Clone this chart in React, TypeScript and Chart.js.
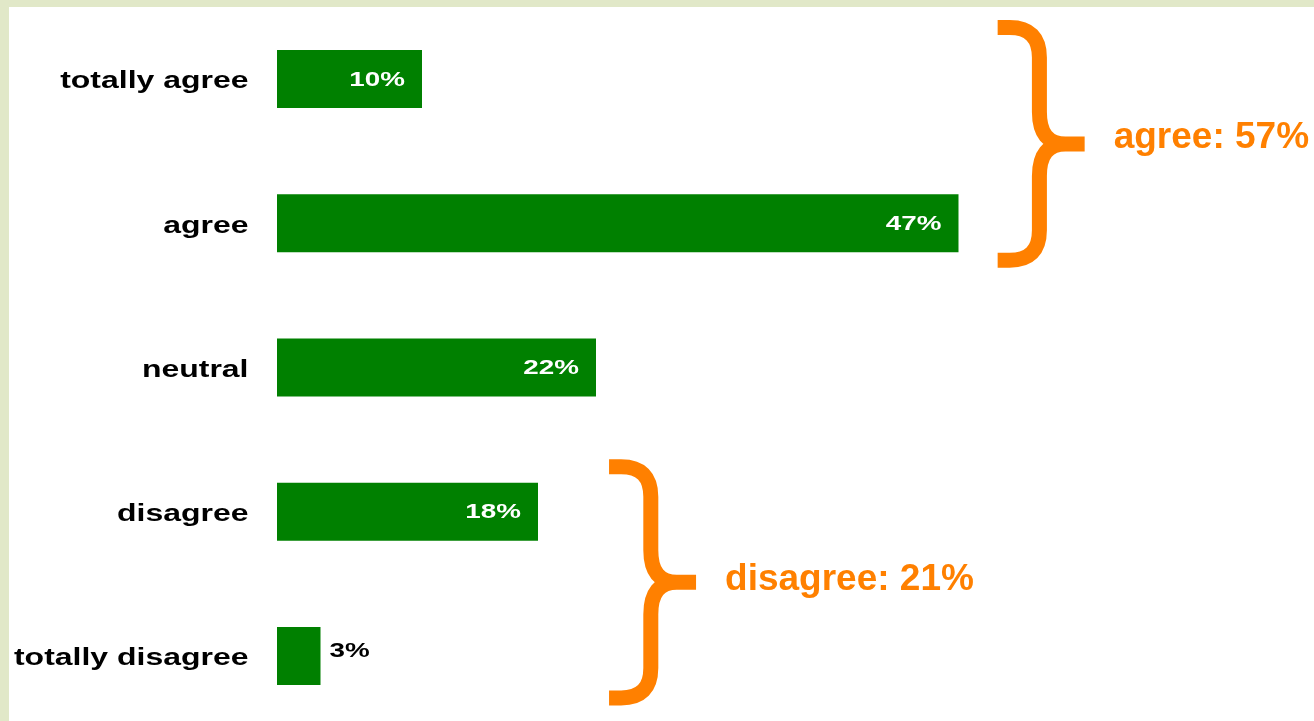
import React, { useEffect, useRef } from 'react';
import { Chart, registerables } from 'chart.js';

Chart.register(...registerables);

// ---- data ----
const categories = ['totally agree', 'agree', 'neutral', 'disagree', 'totally disagree'];
const values = [10, 47, 22, 18, 3];
const groupLabels = ['agree: 57%', 'disagree: 21%'];
const groupFirst = [0, 3];
const groupLast = [1, 4];
const xMax = 70;

// ---- layout / style ----
const SX = 1.39; // horizontal stretch of the original picture
const W = 1305;
const H = 721;
const GREEN = '#008000';
const ORANGE = '#ff8000';
const FRAME = '#e1e8c8';
const FONT = "'Liberation Sans', Arial, Helvetica, sans-serif";
const AREA_LEFT = 268; // canvas px where bars start
const PX_PER_UNIT = 14.5; // canvas px per percent
const BRACE_AT = [49.7, 22.9]; // x value where each brace begins
const BRACE_TOP_PAD = [59, 52.5];
const BRACE_BOT_PAD = [44.5, 49.5];
const TEXT_DY = [4, 8];

function drawBrace(ctx: CanvasRenderingContext2D, x0: number, x1: number, yTop: number, yBot: number, t: number) {
  const xv = x0 + (x1 - x0) * 0.48;
  const ym = (yTop + yBot) / 2;
  const a = yTop + t / 2;
  const b = yBot - t / 2;
  ctx.save();
  ctx.strokeStyle = ORANGE;
  ctx.lineWidth = t;
  ctx.lineCap = 'butt';
  ctx.lineJoin = 'round';
  ctx.beginPath();
  ctx.moveTo(x0, a);
  ctx.lineTo(x0 + 12, a);
  ctx.quadraticCurveTo(xv, a, xv, a + 30);
  ctx.lineTo(xv, ym - 32);
  ctx.quadraticCurveTo(xv, ym, xv + 26, ym);
  ctx.lineTo(x1, ym);
  ctx.moveTo(x1, ym);
  ctx.lineTo(xv + 26, ym);
  ctx.quadraticCurveTo(xv, ym, xv, ym + 32);
  ctx.lineTo(xv, b - 30);
  ctx.quadraticCurveTo(xv, b, x0 + 12, b);
  ctx.lineTo(x0, b);
  ctx.stroke();
  ctx.restore();
}

const stretchPlugin = {
  id: 'stretchAndLabels',
  beforeDraw(chart: any) {
    chart.ctx.setTransform(SX, 0, 0, 1, 0, 0);
  },
  afterDatasetsDraw(chart: any) {
    const ctx = chart.ctx as CanvasRenderingContext2D;
    const meta = chart.getDatasetMeta(0);
    ctx.save();
    ctx.font = `bold 20px ${FONT}`;
    ctx.textBaseline = 'middle';
    meta.data.forEach((bar: any, i: number) => {
      const v = values[i];
      const label = v + '%';
      if (v >= 5) {
        ctx.fillStyle = '#ffffff';
        ctx.textAlign = 'right';
        ctx.fillText(label, bar.x - 17 / SX, bar.y + 1);
      } else {
        ctx.fillStyle = '#000000';
        ctx.textAlign = 'left';
        ctx.fillText(label, bar.x + 9 / SX, bar.y - 4);
      }
    });
    ctx.restore();
  },
  afterDraw(chart: any) {
    const ctx = chart.ctx as CanvasRenderingContext2D;
    ctx.setTransform(1, 0, 0, 1, 0, 0);
    const xs = chart.scales.x;
    const ys = chart.scales.y;
    groupLabels.forEach((txt, g) => {
      const yTop = ys.getPixelForValue(groupFirst[g]) - BRACE_TOP_PAD[g];
      const yBot = ys.getPixelForValue(groupLast[g]) + BRACE_BOT_PAD[g];
      const x0 = xs.getPixelForValue(BRACE_AT[g]) * SX;
      const x1 = x0 + 87;
      drawBrace(ctx, x0, x1, yTop, yBot, 15);
      ctx.save();
      ctx.fillStyle = ORANGE;
      ctx.font = `bold 37px ${FONT}`;
      ctx.textAlign = 'left';
      ctx.textBaseline = 'alphabetic';
      ctx.fillText(txt, x1 + 29, (yTop + yBot) / 2 + TEXT_DY[g]);
      ctx.restore();
    });
  },
};

export default function App() {
  const ref = useRef<HTMLCanvasElement | null>(null);

  useEffect(() => {
    if (!ref.current) return;
    const areaRightLogical = (AREA_LEFT + xMax * PX_PER_UNIT) / SX;
    const chart = new Chart(ref.current, {
      type: 'bar',
      data: {
        labels: categories,
        datasets: [
          {
            data: values,
            backgroundColor: GREEN,
            borderWidth: 0,
            barPercentage: 0.4025,
            categoryPercentage: 1,
          },
        ],
      },
      options: {
        indexAxis: 'y',
        responsive: false,
        maintainAspectRatio: false,
        animation: false,
        devicePixelRatio: 1,
        layout: { padding: { left: 0, top: 0, bottom: 0, right: W - areaRightLogical } },
        plugins: {
          legend: { display: false },
          title: { display: false },
          tooltip: { enabled: false },
        },
        scales: {
          x: {
            display: false,
            min: 0,
            max: xMax,
          },
          y: {
            grid: { display: false, drawTicks: false },
            border: { display: false },
            ticks: {
              color: '#000000',
              padding: (AREA_LEFT - 239.5) / SX,
              labelOffset: 3,
              font: { family: FONT, size: 23, weight: 'bold' },
            },
            afterFit(scale: any) {
              scale.width = AREA_LEFT / SX;
              scale.paddingTop = 0;
              scale.paddingBottom = 0;
            },
          },
        },
      },
      plugins: [stretchPlugin],
    } as any);
    return () => chart.destroy();
  }, []);

  return (
    <div
      style={{
        position: 'fixed',
        left: 0,
        top: 0,
        width: 1314,
        height: 721,
        overflow: 'hidden',
        background: FRAME,
      }}
    >
      <div
        style={{
          position: 'absolute',
          left: 9,
          top: 7,
          width: W,
          height: 714,
          overflow: 'hidden',
          background: '#ffffff',
        }}
      >
        <canvas ref={ref} width={W} height={H} style={{ display: 'block', width: W, height: H }} />
      </div>
    </div>
  );
}
